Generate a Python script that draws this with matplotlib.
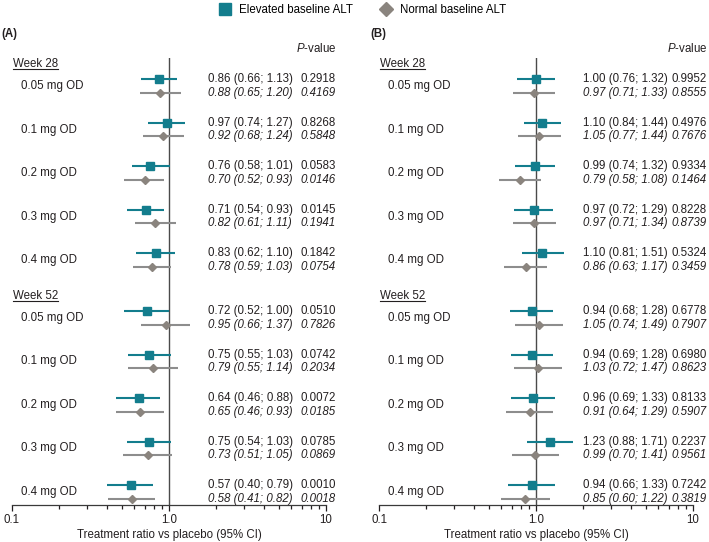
import numpy as np
import matplotlib
matplotlib.use('Agg')
import matplotlib.pyplot as plt
from matplotlib.lines import Line2D

plt.rcParams['font.family'] = ['Liberation Sans', 'DejaVu Sans']
plt.rcParams['font.size'] = 8.3
plt.rcParams['mathtext.fontset'] = 'custom'
plt.rcParams['mathtext.it'] = 'Liberation Sans:italic'
plt.rcParams['mathtext.rm'] = 'Liberation Sans'

doses = ['0.05 mg OD', '0.1 mg OD', '0.2 mg OD', '0.3 mg OD', '0.4 mg OD']
weeks = ['Week 28', 'Week 52']

# panel A (week 28 rows, then week 52 rows)
a_elev_est = [0.86, 0.97, 0.76, 0.71, 0.83, 0.72, 0.75, 0.64, 0.75, 0.57]
a_elev_lo = [0.66, 0.74, 0.58, 0.54, 0.62, 0.52, 0.55, 0.46, 0.54, 0.40]
a_elev_hi = [1.13, 1.27, 1.01, 0.93, 1.10, 1.00, 1.03, 0.88, 1.03, 0.79]
a_elev_p = ['0.2918', '0.8268', '0.0583', '0.0145', '0.1842',
            '0.0510', '0.0742', '0.0072', '0.0785', '0.0010']
a_norm_est = [0.88, 0.92, 0.70, 0.82, 0.78, 0.95, 0.79, 0.65, 0.73, 0.58]
a_norm_lo = [0.65, 0.68, 0.52, 0.61, 0.59, 0.66, 0.55, 0.46, 0.51, 0.41]
a_norm_hi = [1.20, 1.24, 0.93, 1.11, 1.03, 1.37, 1.14, 0.93, 1.05, 0.82]
a_norm_p = ['0.4169', '0.5848', '0.0146', '0.1941', '0.0754',
            '0.7826', '0.2034', '0.0185', '0.0869', '0.0018']

# panel B
b_elev_est = [1.00, 1.10, 0.99, 0.97, 1.10, 0.94, 0.94, 0.96, 1.23, 0.94]
b_elev_lo = [0.76, 0.84, 0.74, 0.72, 0.81, 0.68, 0.69, 0.69, 0.88, 0.66]
b_elev_hi = [1.32, 1.44, 1.32, 1.29, 1.51, 1.28, 1.28, 1.33, 1.71, 1.33]
b_elev_p = ['0.9952', '0.4976', '0.9334', '0.8228', '0.5324',
            '0.6778', '0.6980', '0.8133', '0.2237', '0.7242']
b_norm_est = [0.97, 1.05, 0.79, 0.97, 0.86, 1.05, 1.03, 0.91, 0.99, 0.85]
b_norm_lo = [0.71, 0.77, 0.58, 0.71, 0.63, 0.74, 0.72, 0.64, 0.70, 0.60]
b_norm_hi = [1.33, 1.44, 1.08, 1.34, 1.17, 1.49, 1.47, 1.29, 1.41, 1.22]
b_norm_p = ['0.8555', '0.7676', '0.1464', '0.8739', '0.3459',
            '0.7907', '0.8623', '0.5907', '0.9561', '0.3819']

teal = '#137d8d'
grey = '#8d8d8d'
grey_mk = '#8a847e'
ink = '#231f20'

W, H = 709, 542
fig = plt.figure(figsize=(W / 100, H / 100), dpi=100)

rows = np.concatenate([np.arange(5), np.arange(5) + 5.33])
off = 0.155
headers = []


def forest(ax, elev, norm, x_num, x_p, x_phead):
    e_est, e_lo, e_hi, e_p = elev
    n_est, n_lo, n_hi, n_p = norm
    tr = ax.get_yaxis_transform()

    ax.axvline(1.0, color='#4a4a4a', lw=1.0, zorder=1)
    ax.hlines(rows - off, e_lo, e_hi, color=teal, lw=1.5, zorder=2)
    ax.plot(e_est, rows - off, 's', color=teal, ms=5.8, zorder=3)
    ax.hlines(rows + off, n_lo, n_hi, color=grey, lw=1.5, zorder=2)
    ax.plot(n_est, rows + off, 'D', color=grey_mk, ms=3.8, zorder=3)

    for i, r in enumerate(rows):
        ax.text(0.029, r, doses[i % 5], transform=tr, va='center', ha='left', color=ink)
        ax.text(x_num, r - off, f'{e_est[i]:.2f} ({e_lo[i]:.2f}; {e_hi[i]:.2f})',
                transform=tr, va='center', ha='left', color=ink)
        ax.text(x_p, r - off, e_p[i], transform=tr, va='center', ha='left', color=ink)
        ax.text(x_num, r + off, f'{n_est[i]:.2f} ({n_lo[i]:.2f}; {n_hi[i]:.2f})',
                transform=tr, va='center', ha='left', color=ink, style='italic')
        ax.text(x_p, r + off, n_p[i], transform=tr, va='center', ha='left', color=ink,
                style='italic')

    for k, wk in enumerate(weeks):
        t = ax.text(0.003, rows[k * 5] - 0.5, wk, transform=tr, va='center', ha='left',
                    color=ink)
        headers.append(t)

    ax.text(x_phead, 1.022, '$\\it{P}$-value', transform=ax.transAxes, va='center',
            ha='right', color=ink)

    ax.set_xscale('log')
    ax.set_xlim(0.1, 10)
    ax.set_ylim(9.632, -0.644)
    ax.set_xticks([0.1, 1, 10])
    ax.set_xticklabels(['0.1', '1.0', '10'])
    ax.tick_params(axis='x', which='major', length=4.3, width=0.9, pad=2,
                   colors=ink, direction='out')
    ax.tick_params(axis='x', which='minor', length=2.9, width=0.9, colors=ink)
    ax.set_yticks([])
    for s in ['top', 'right', 'left']:
        ax.spines[s].set_visible(False)
    ax.spines['bottom'].set_color('#3a3a3a')
    ax.spines['bottom'].set_linewidth(0.9)
    ax.set_xlabel('Treatment ratio vs placebo (95% CI)', color=ink, labelpad=2)


axA = fig.add_axes([12 / W, 37 / H, 314 / W, 447 / H])
axB = fig.add_axes([379 / W, 37 / H, 314 / W, 447 / H])

forest(axA, (a_elev_est, a_elev_lo, a_elev_hi, a_elev_p),
       (a_norm_est, a_norm_lo, a_norm_hi, a_norm_p), 0.624, 0.920, 1.032)
forest(axB, (b_elev_est, b_elev_lo, b_elev_hi, b_elev_p),
       (b_norm_est, b_norm_lo, b_norm_hi, b_norm_p), 0.650, 0.933, 1.045)

fig.text(1 / W, 1 - 34 / H, '(A)', weight='bold', va='center', ha='left', color=ink)
fig.text(370 / W, 1 - 34 / H, '(B)', weight='bold', va='center', ha='left', color=ink)

handles = [Line2D([], [], marker='s', ls='', color=teal, ms=8.5),
           Line2D([], [], marker='D', ls='', color=grey_mk, ms=7)]
fig.legend(handles, ['Elevated baseline ALT', 'Normal baseline ALT'],
           loc='upper left', bbox_to_anchor=(219 / W, 1 - 4 / H), ncol=2,
           frameon=False, handlelength=1.0, handletextpad=0.7, columnspacing=2.4,
           borderpad=0, borderaxespad=0)

# underline the week headers
fig.canvas.draw()
renderer = fig.canvas.get_renderer()
inv = fig.transFigure.inverted()
for t in headers:
    bb = t.get_window_extent(renderer)
    (x0, y0), (x1, _) = inv.transform([(bb.x0, bb.y0 + 1.5), (bb.x1, bb.y0 + 1.5)])
    fig.add_artist(Line2D([x0, x1], [y0, y0], color=ink, lw=0.8,
                          transform=fig.transFigure))

fig.savefig('out.png', dpi=100)
